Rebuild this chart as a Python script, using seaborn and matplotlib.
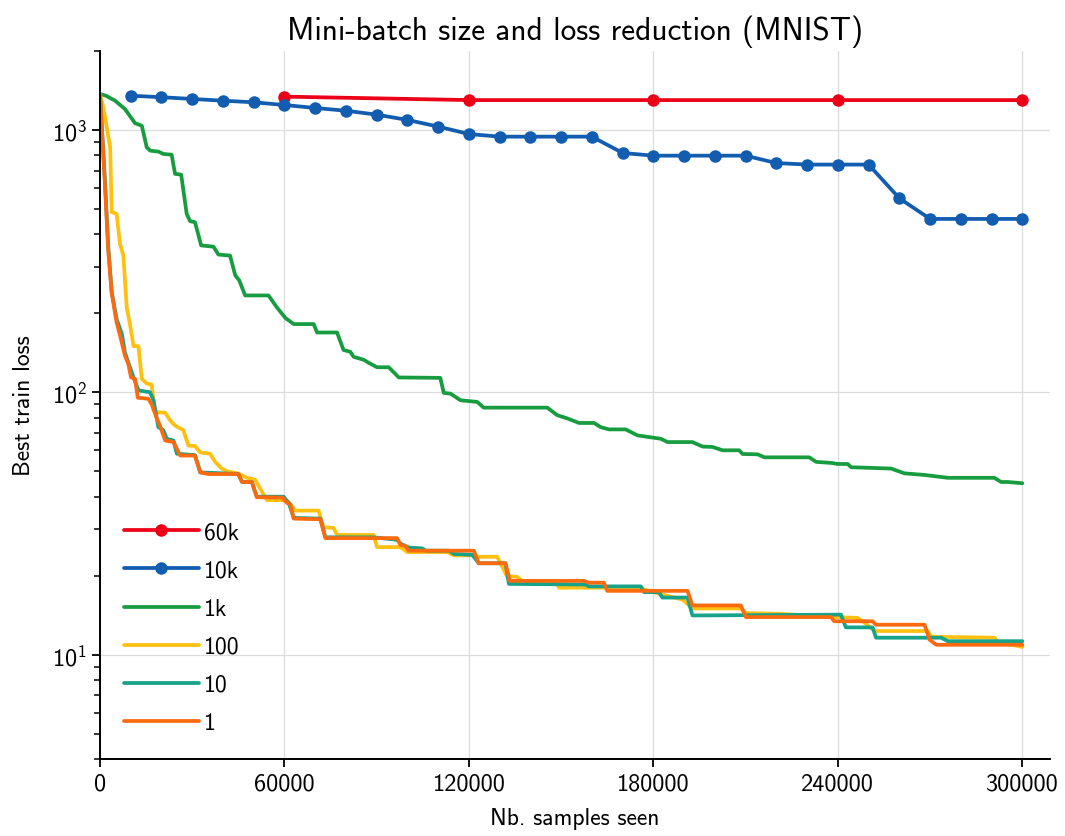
import matplotlib
matplotlib.use("Agg")
import matplotlib.pyplot as plt
import matplotlib.ticker as mticker
import seaborn as sns
import pandas as pd

# ---------------- data ----------------
labels = ["60k", "10k", "1k", "100", "10", "1"]

x_60k = [60000, 120000, 180000, 240000, 300000]
y_60k = [1340, 1300, 1300, 1300, 1300]

x_10k = [10000, 20000, 30000, 40000, 50000, 60000, 70000, 80000, 90000, 100000,
         110000, 120000, 130000, 140000, 150000, 160000, 170000, 180000, 190000, 200000,
         210000, 220000, 230000, 240000, 250000, 260000, 270000, 280000, 290000, 300000]
y_10k = [1351, 1333, 1313, 1293, 1275, 1245, 1213, 1184, 1144, 1092,
         1030, 965, 943, 943, 943, 943, 817, 798, 798, 798,
         798, 748, 738, 738, 738, 549, 458, 458, 458, 458]

x_1k = [0, 2000, 4900, 8100, 11400, 13600, 15200, 16300, 19000, 20600, 23300, 24400, 26400,
        28200, 29300, 30900, 32900, 36900, 38500, 42300, 44000, 45300, 47200, 54800, 57500,
        60300, 63000, 69500, 70600, 77100, 79200, 81400, 82500, 85800, 87400, 90100, 93900,
        97200, 110700, 111800, 114000, 117300, 122700, 124800, 145500, 148700, 152000, 155800,
        160700, 162900, 165600, 171000, 174800, 182400, 184600, 192700, 196000, 199200, 202500,
        207900, 209000, 213900, 216100, 230700, 232900, 237800, 240000, 243200, 244300, 257300,
        261600, 268200, 275800, 290900, 293100, 295300, 300000]
y_1k = [1371, 1350, 1293, 1202, 1061, 1038, 859, 834, 827, 810, 805, 680, 676,
        479, 449, 445, 363, 359, 335, 332, 279, 267, 234, 234, 211,
        192, 182, 182, 169, 169, 145, 142.7, 136.5, 133, 129.5, 124.6, 124.6,
        113.9, 113.5, 99.5, 98.8, 93.2, 91.9, 87.4, 87.4, 81.8, 79.5, 76.4,
        76.4, 73.6, 72.2, 72.2, 68.5, 66.5, 64.6, 64.6, 62.1, 61.9, 60.1,
        60.1, 58.2, 58.0, 56.5, 56.5, 54.3, 53.8, 53.3, 53.3, 51.8, 51.2,
        49.1, 48.4, 47.2, 47.2, 45.5, 45.5, 45.0]

x_100 = [0, 1100, 3300, 3800, 5400, 6500, 7600, 8700, 9800, 10900, 12500, 13600, 15200,
         16800, 17900, 21200, 22800, 24400, 27100, 28800, 30900, 32600, 35800, 37500, 39600,
         41300, 45000, 47800, 50500, 52700, 54300, 59200, 61300, 63500, 71100, 72700, 76000,
         77100, 89000, 90100, 97700, 99900, 112900, 115100, 121600, 123200, 129200, 132400,
         135700, 137300, 148000, 149300, 175000, 182400, 189500, 192700, 208400, 210100,
         221500, 239400, 246400, 249200, 251900, 269200, 270300, 290900, 292000, 300000]
y_100 = [1370, 1220, 859, 486, 479, 368, 332, 210, 180, 150, 150, 112.5, 108,
         107, 84, 83.6, 78.1, 74.7, 71.7, 62.6, 62.4, 59, 58.3, 54.2, 51.2,
         50, 49, 47.2, 46.4, 41.7, 38.8, 38.8, 38.3, 35.4, 35.4, 30.6, 30.4,
         28.6, 28.6, 25.7, 25.7, 24.6, 24.6, 23.9, 23.9, 23.6, 23.6, 19.9,
         19.8, 19.1, 19.1, 18.0, 18.0, 17.0, 16.2, 15.0, 15.0, 14.4,
         14.3, 13.9, 13.8, 13.1, 12.3, 12.3, 11.7, 11.6, 11.2, 10.7]

x_10 = [0, 1600, 2700, 3800, 5400, 7100, 8100, 9200, 10900, 12500, 16300, 17400, 19000,
        20600, 21700, 23900, 25000, 30900, 32600, 45000, 46200, 49400, 51000, 59700, 61500,
        63000, 71700, 73300, 89000, 96600, 97700, 100400, 104800, 106000, 113500, 115100,
        121100, 123200, 131900, 133000, 158000, 159000, 175900, 177000, 181800, 182900,
        191100, 192700, 241000, 242600, 251300, 252400, 273600, 275800, 300000]
y_10 = [1370, 640, 355, 242, 190, 167, 142, 130, 114, 101.7, 100, 93.2, 73.6,
        71.7, 66.5, 65.5, 58.3, 57.6, 49.5, 48.8, 45.5, 45.5, 40.0, 40.0, 37.6,
        33.2, 33.0, 28.0, 28.0, 27.4, 26.5, 25.6, 25.4, 24.9, 24.9, 24.2,
        24.0, 22.3, 22.3, 18.6, 18.5, 18.2, 18.2, 17.3, 17.3, 16.5,
        16.5, 14.1, 14.2, 12.7, 12.7, 11.6, 11.6, 11.25, 11.25]

x_1 = [0, 1600, 2700, 3800, 5400, 6500, 8100, 9200, 10100, 11400, 12300, 15700, 16800,
       18500, 19500, 21200, 23900, 26100, 30900, 32600, 35300, 45000, 46200, 49400, 51000,
       59200, 60800, 61900, 63000, 71700, 73300, 96600, 97700, 99300, 100400, 121600, 123200,
       131900, 133300, 157400, 159000, 163900, 165000, 191100, 192700, 208400, 210100,
       237800, 238800, 251300, 252400, 268200, 269800, 272000, 300000]
y_1 = [1370, 623, 347, 239, 185, 165, 138, 128.4, 114, 112.5, 95.3, 94.5, 90.1,
       79.3, 74.7, 65.5, 64.6, 57.4, 57.4, 49.5, 48.8, 48.8, 45.5, 45.5, 39.8,
       39.7, 37.9, 37.4, 33.0, 32.8, 27.8, 27.8, 26.2, 26.0, 24.9, 24.9, 22.3,
       22.3, 19.1, 19.1, 18.8, 18.8, 17.5, 17.5, 15.4, 15.4, 13.9,
       13.9, 13.4, 13.4, 13.0, 13.0, 11.4, 10.9, 10.9]

x_ticks = [0, 60000, 120000, 180000, 240000, 300000]

colors = ["#ec0018", "#125db0", "#189c40", "#ffc00f", "#17a28a", "#fb6a0e"]

# ---------------- style ----------------
sns.set_theme(style="ticks")
plt.rcParams["font.family"] = ["cmss10", "DejaVu Sans"]
plt.rcParams["mathtext.fontset"] = "custom"
plt.rcParams["mathtext.rm"] = "cmss10"
plt.rcParams["mathtext.it"] = "cmss10"
plt.rcParams["mathtext.bf"] = "cmss10"
plt.rcParams["axes.unicode_minus"] = False
plt.rcParams["axes.formatter.use_mathtext"] = True
plt.rcParams["text.color"] = "black"
plt.rcParams["axes.labelcolor"] = "black"
plt.rcParams["xtick.color"] = "black"
plt.rcParams["ytick.color"] = "black"

fig = plt.figure(figsize=(10.65, 8.37), dpi=100)
ax = fig.add_axes([100 / 1065, 1 - 760 / 837, 950 / 1065, 708 / 837])

series = [
    (x_60k, y_60k, "o"),
    (x_10k, y_10k, "o"),
    (x_1k, y_1k, None),
    (x_100, y_100, None),
    (x_10, y_10, None),
    (x_1, y_1, None),
]
for (xs, ys, mk), lab, col in zip(series, labels, colors):
    df = pd.DataFrame({"x": xs, "y": ys})
    kw = dict(marker=mk, markersize=9, markeredgewidth=0) if mk else {}
    sns.lineplot(data=df, x="x", y="y", ax=ax, color=col, label=lab,
                 estimator=None, sort=False, linewidth=2.7, **kw)

ax.set_yscale("log")
ax.set_ylim(4, 2000)
ax.set_xlim(0, 309000)
ax.set_xticks(x_ticks)
ax.xaxis.set_major_formatter(mticker.FuncFormatter(lambda v, p: f"{int(v)}"))

ax.grid(True, which="major", color="#dcdcdc", linewidth=0.9)
ax.set_axisbelow(True)
sns.despine(ax=ax)
for s in ["left", "bottom"]:
    ax.spines[s].set_linewidth(1.4)
    ax.spines[s].set_color("black")
ax.tick_params(axis="both", which="major", labelsize=17.5, length=6, width=1.3, color="black")
ax.tick_params(axis="y", which="minor", length=4, width=1.1, color="black")

ax.set_title("Mini-batch size and loss reduction (MNIST)", fontsize=22.5, pad=9)
ax.set_xlabel("Nb. samples seen", fontsize=17, labelpad=9)
ax.set_ylabel("Best train loss", fontsize=17, labelpad=12)

ax.legend(loc="lower left", frameon=False, fontsize=17, handlelength=3.2,
          handletextpad=0.2, labelspacing=0.68, bbox_to_anchor=(0.015, 0.022),
          borderaxespad=0)

fig.savefig("out.png", dpi=100)
